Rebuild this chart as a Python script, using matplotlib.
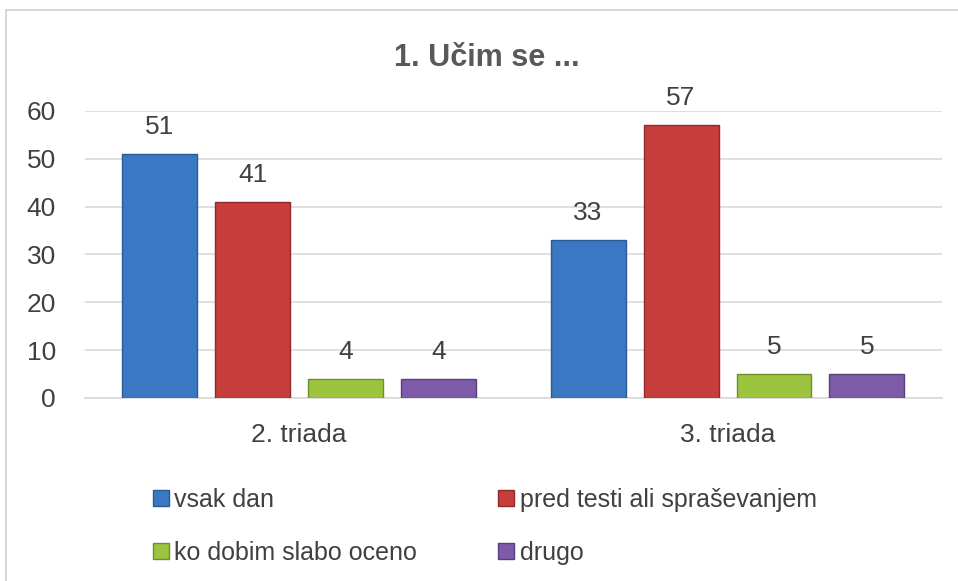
import matplotlib
matplotlib.use("Agg")
import matplotlib.pyplot as plt
import numpy as np
from matplotlib.patches import Rectangle
from matplotlib.lines import Line2D

categories = ["2. triada", "3. triada"]
series_names = ["vsak dan", "pred testi ali spraševanjem", "ko dobim slabo oceno", "drugo"]
vsak_dan = [51, 33]
pred_testi = [41, 57]
slabo_oceno = [4, 5]
drugo = [4, 5]
values = [vsak_dan, pred_testi, slabo_oceno, drugo]
colors = ["#3B78C3", "#C63D3B", "#9CC43E", "#7D5BA8"]
edges = ["#2A5A95", "#8E2A28", "#6F8F2A", "#58407A"]
yticks = [0, 10, 20, 30, 40, 50, 60]

font = ["Liberation Sans Narrow", "Liberation Sans", "DejaVu Sans"]
plt.rcParams["font.family"] = font
txt = "#404040"

fig = plt.figure(figsize=(9.58, 5.81), dpi=100)
fig.patches.append(Rectangle((0.006, -0.05), 1.1, 1.032, transform=fig.transFigure,
                             fill=False, edgecolor="#d0d0d0", linewidth=1.2))
ax = fig.add_axes([0.0887, 0.315, 0.8943, 0.494])

x = np.arange(len(categories))
step = 0.217
width = 0.175
for i, (vals, c, e) in enumerate(zip(values, colors, edges)):
    pos = x + (i - 1.5) * step
    bars = ax.bar(pos, vals, width, color=c, edgecolor=e, linewidth=1.0, zorder=3,
                  label=series_names[i])
    for b, v in zip(bars, vals):
        ax.annotate(str(v), (b.get_x() + b.get_width() / 2, v), xytext=(0, 11),
                    textcoords="offset points", ha="center", va="bottom",
                    fontsize=19, color=txt)

ax.set_xlim(-0.5, 1.5)
ax.set_ylim(0, 60)
ax.set_yticks(yticks)
ax.set_xticks(x)
ax.set_xticklabels(categories)
ax.tick_params(axis="y", length=0, labelsize=19, labelcolor=txt, pad=21)
ax.tick_params(axis="x", length=0, labelsize=19, labelcolor=txt, pad=18)
ax.grid(axis="y", color="#d9d9d9", linewidth=1.2, zorder=0)
for s in ["top", "right", "left"]:
    ax.spines[s].set_visible(False)
ax.spines["bottom"].set_color("#d9d9d9")
ax.spines["bottom"].set_linewidth(1.2)

fig.text(0.508, 0.9, "1. Učim se ...", ha="center", va="center", fontsize=22,
         fontweight="bold", color="#595959")

order = [0, 2, 1, 3]
handles = [Line2D([], [], marker="s", linestyle="none", markersize=11,
                  markerfacecolor=colors[i], markeredgecolor=edges[i]) for i in order]
labels = [series_names[i] for i in order]
leg = fig.legend(handles, labels, ncol=2, loc="upper left", bbox_to_anchor=(0.148, 0.178),
                 frameon=False, fontsize=18, handlelength=0.7, handletextpad=0.2,
                 columnspacing=3.2, labelspacing=1.17, borderaxespad=0)
for t in leg.get_texts():
    t.set_color(txt)

fig.savefig("out.png", dpi=100)
